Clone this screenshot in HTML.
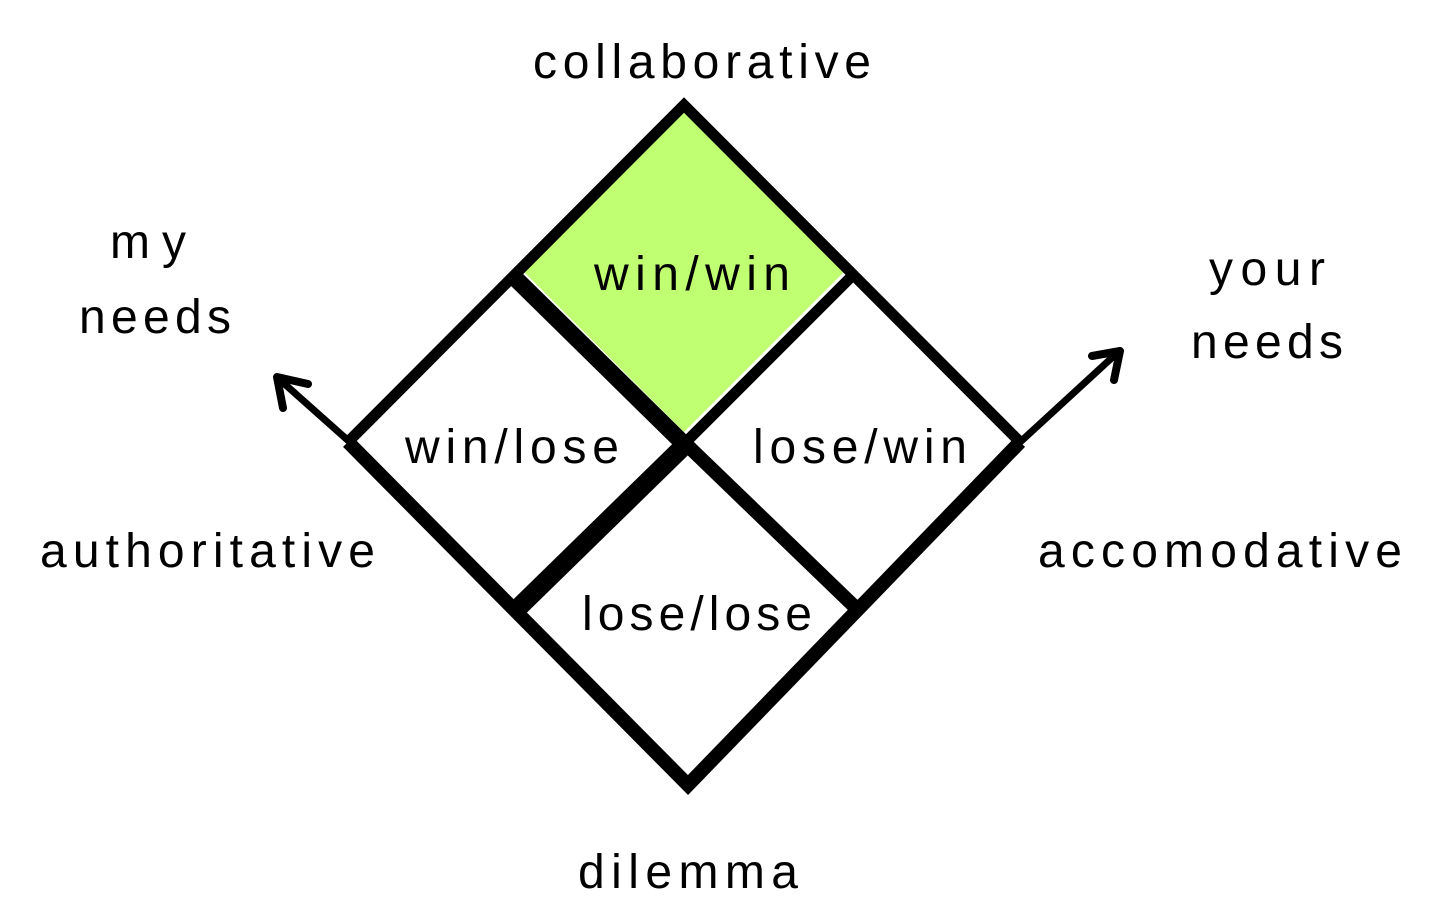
<!DOCTYPE html>
<html><head><meta charset="utf-8"><style>
html,body{margin:0;padding:0;background:#fff;}
svg{display:block;}
text{font-family:"Liberation Sans",sans-serif;font-size:48px;fill:#000;}
</style></head><body>
<svg width="1440" height="916" viewBox="0 0 1440 916">
<polygon points="684,112 844,272 684,432 524,272" fill="#c0ff72"/>
<!-- outer diamond -->
<polyline points="348,442 684,105 1020,442" fill="none" stroke="#000" stroke-width="11" stroke-linejoin="miter"/>
<polyline points="348,442 688,785 1020,442" fill="none" stroke="#000" stroke-width="14" stroke-linejoin="miter"/>
<!-- inner lines -->
<line x1="513" y1="276" x2="690" y2="450" stroke="#000" stroke-width="17"/>
<line x1="852" y1="276" x2="684" y2="444" stroke="#000" stroke-width="11"/>
<line x1="516" y1="610" x2="690" y2="440" stroke="#000" stroke-width="19"/>
<line x1="688" y1="446" x2="858" y2="610" stroke="#000" stroke-width="14"/>
<!-- arrows -->
<line x1="352" y1="444" x2="279" y2="379" stroke="#000" stroke-width="7"/>
<polyline points="308,384 277,377 283,408" fill="none" stroke="#000" stroke-width="8" stroke-linecap="round" stroke-linejoin="round"/>
<line x1="1018" y1="444" x2="1116" y2="354" stroke="#000" stroke-width="7"/>
<polyline points="1092,356 1120,351 1114,380" fill="none" stroke="#000" stroke-width="8" stroke-linecap="round" stroke-linejoin="round"/>
<text x="702" y="78" text-anchor="middle" textLength="338">collaborative</text>
<text x="148" y="258" text-anchor="middle" textLength="76">my</text>
<text x="155" y="333" text-anchor="middle" textLength="152">needs</text>
<text x="1267" y="285" text-anchor="middle" textLength="116">your</text>
<text x="1267" y="358" text-anchor="middle" textLength="152">needs</text>
<text x="40" y="567" textLength="335">authoritative</text>
<text x="1038" y="567" textLength="364">accomodative</text>
<text x="688" y="888" text-anchor="middle" textLength="220">dilemma</text>
<text x="692" y="290" text-anchor="middle" textLength="196">win/win</text>
<text x="512" y="463" text-anchor="middle" textLength="214">win/lose</text>
<text x="860" y="463" text-anchor="middle" textLength="214">lose/win</text>
<text x="697" y="630" text-anchor="middle" textLength="230">lose/lose</text>
</svg>
</body></html>
